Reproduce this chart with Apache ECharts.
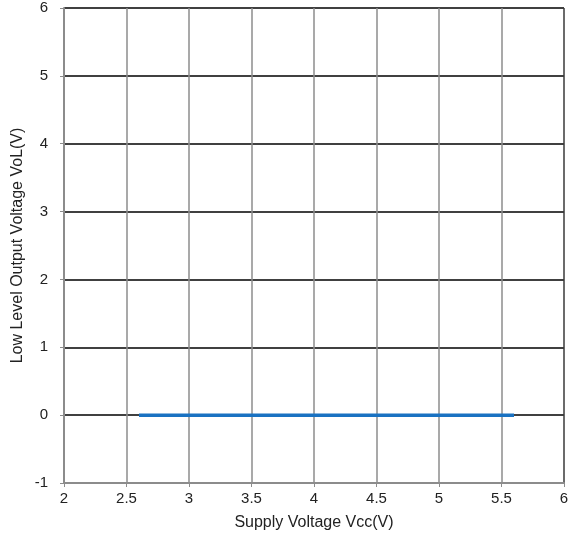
<!DOCTYPE html>
<html>
<head>
<meta charset="utf-8">
<script src="https://cdn.jsdelivr.net/npm/echarts@6/dist/echarts.min.js"></script>
<style>
  html, body { margin: 0; padding: 0; background: #fff; }
  #chart { width: 576px; height: 538px; }
</style>
</head>
<body>
<div id="chart"></div>
<script>
// supply voltage (V) vs low level output voltage (V)
const vcc = [2.6, 3.0, 3.5, 4.0, 4.5, 5.0, 5.5, 5.6];
const vol = [0, 0, 0, 0, 0, 0, 0, 0];

const xTicks = {min: 2, max: 6, interval: 0.5};
const yTicks = {min: -1, max: 6, interval: 1};

const font = 'Liberation Sans, Arial, Helvetica, sans-serif';

// vertical grid lines gray, last one (right border) darker
const xSplitColors = ['#8c8c8c', '#8c8c8c', '#8c8c8c', '#8c8c8c', '#8c8c8c',
    '#8c8c8c', '#8c8c8c', '#8c8c8c', '#3a3a3a'];

const chart = echarts.init(document.getElementById('chart'));

chart.setOption({
    animation: false,
    grid: {left: 64, right: 12, top: 8, bottom: 55},
    xAxis: {
        type: 'value',
        ...xTicks,
        name: 'Supply Voltage Vcc(V)',
        nameLocation: 'middle',
        nameGap: 32,
        nameMoveOverlap: false,
        nameTextStyle: {fontFamily: font, fontSize: 16, color: '#222'},
        axisLine: {show: true, onZero: false, lineStyle: {color: '#8c8c8c', width: 2}},
        axisTick: {show: true, length: 4, lineStyle: {color: '#8c8c8c'}},
        axisLabel: {fontFamily: font, fontSize: 15, color: '#222', margin: 8},
        splitLine: {show: true, lineStyle: {color: xSplitColors, width: 1.5}}
    },
    yAxis: {
        type: 'value',
        ...yTicks,
        name: 'Low Level Output Voltage VoL(V)',
        nameLocation: 'middle',
        nameGap: 38,
        nameMoveOverlap: false,
        nameTextStyle: {fontFamily: font, fontSize: 16, color: '#222'},
        axisLine: {show: true, lineStyle: {color: '#8c8c8c', width: 2}},
        axisTick: {show: true, length: 4, lineStyle: {color: '#8c8c8c'}},
        axisLabel: {fontFamily: font, fontSize: 15, color: '#222', margin: 16},
        splitLine: {show: true, lineStyle: {color: '#000', width: 1.5}}
    },
    series: [{
        type: 'line',
        data: vcc.map((v, i) => [v, vol[i]]),
        symbol: 'none',
        lineStyle: {color: '#1a72c2', width: 3.5},
        z: 5
    }]
});
</script>
</body>
</html>
